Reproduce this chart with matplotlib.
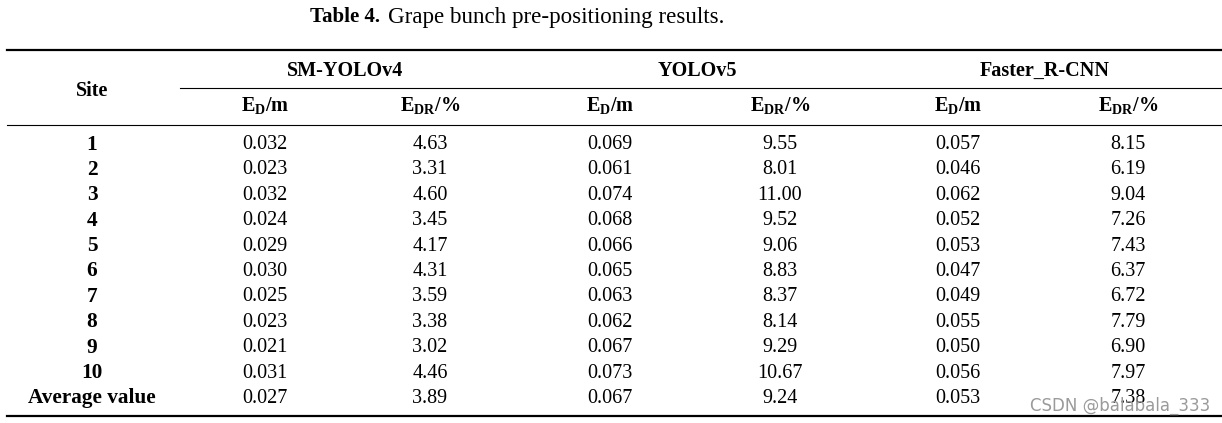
import matplotlib
matplotlib.use("Agg")
import matplotlib.pyplot as plt

plt.rcParams['font.family'] = 'Liberation Serif'
plt.rcParams['mathtext.fontset'] = 'custom'
plt.rcParams['mathtext.rm'] = 'Liberation Serif'
plt.rcParams['mathtext.bf'] = 'Liberation Serif:bold'
plt.rcParams['mathtext.it'] = 'Liberation Serif:italic'

sites = ["1", "2", "3", "4", "5", "6", "7", "8", "9", "10", "Average value"]
sm_ed = ["0.032", "0.023", "0.032", "0.024", "0.029", "0.030", "0.025", "0.023", "0.021", "0.031", "0.027"]
sm_edr = ["4.63", "3.31", "4.60", "3.45", "4.17", "4.31", "3.59", "3.38", "3.02", "4.46", "3.89"]
v5_ed = ["0.069", "0.061", "0.074", "0.068", "0.066", "0.065", "0.063", "0.062", "0.067", "0.073", "0.067"]
v5_edr = ["9.55", "8.01", "11.00", "9.52", "9.06", "8.83", "8.37", "8.14", "9.29", "10.67", "9.24"]
fr_ed = ["0.057", "0.046", "0.062", "0.052", "0.053", "0.047", "0.049", "0.055", "0.050", "0.056", "0.053"]
fr_edr = ["8.15", "6.19", "9.04", "7.26", "7.43", "6.37", "6.72", "7.79", "6.90", "7.97", "7.38"]
models = ["SM-YOLOv4", "YOLOv5", "Faster_R-CNN"]

fig = plt.figure(figsize=(12.22, 4.23), dpi=100)
ax = fig.add_axes([0, 0, 1, 1])
ax.set_xlim(0, 1222)
ax.set_ylim(423, 0)
ax.axis('off')

fs = 14.5

# title
ax.text(310, 17, "Table 4.", fontsize=15, fontweight='bold', va='center', ha='left')
ax.text(388, 17, "Grape bunch pre-positioning results.", fontsize=16.6, va='center', ha='left')

# rules
ax.plot([7, 1222], [50, 50], color='black', lw=1.6)
ax.plot([180, 1222], [88, 88], color='black', lw=0.8)
ax.plot([7, 1222], [125, 125], color='black', lw=0.8)
ax.plot([7, 1222], [416, 416], color='black', lw=1.6)

# headers
site_x = 92
group_x = [345, 697, 1045]
col_x = [265, 430, 610, 780, 958, 1128]
ax.text(site_x, 91, "Site", fontsize=fs, fontweight='bold', ha='center', va='center')
for gx, m in zip(group_x, models):
    ax.text(gx, 71, m, fontsize=fs, fontweight='bold', ha='center', va='center')
for i, cx in enumerate(col_x):
    lab = r'$\mathbf{E_{D}/m}$' if i % 2 == 0 else r'$\mathbf{E_{DR}/\%}$'
    ax.text(cx, 106, lab, fontsize=fs, ha='center', va='center')

# body
cols = [sm_ed, sm_edr, v5_ed, v5_edr, fr_ed, fr_edr]
row_y0 = 144.5
row_dy = 25.4
for r, s in enumerate(sites):
    y = row_y0 + r * row_dy
    ax.text(site_x, y, s, fontsize=fs + 0.8, fontweight='bold', ha='center', va='center')
    for cx, col in zip(col_x, cols):
        ax.text(cx, y, col[r], fontsize=fs, ha='center', va='center')

# watermark
ax.text(1210, 406, "CSDN @balabala_333", fontsize=12, family='DejaVu Sans',
        color='#9a9a9a', ha='right', va='center')

fig.savefig("out.png", dpi=100)
